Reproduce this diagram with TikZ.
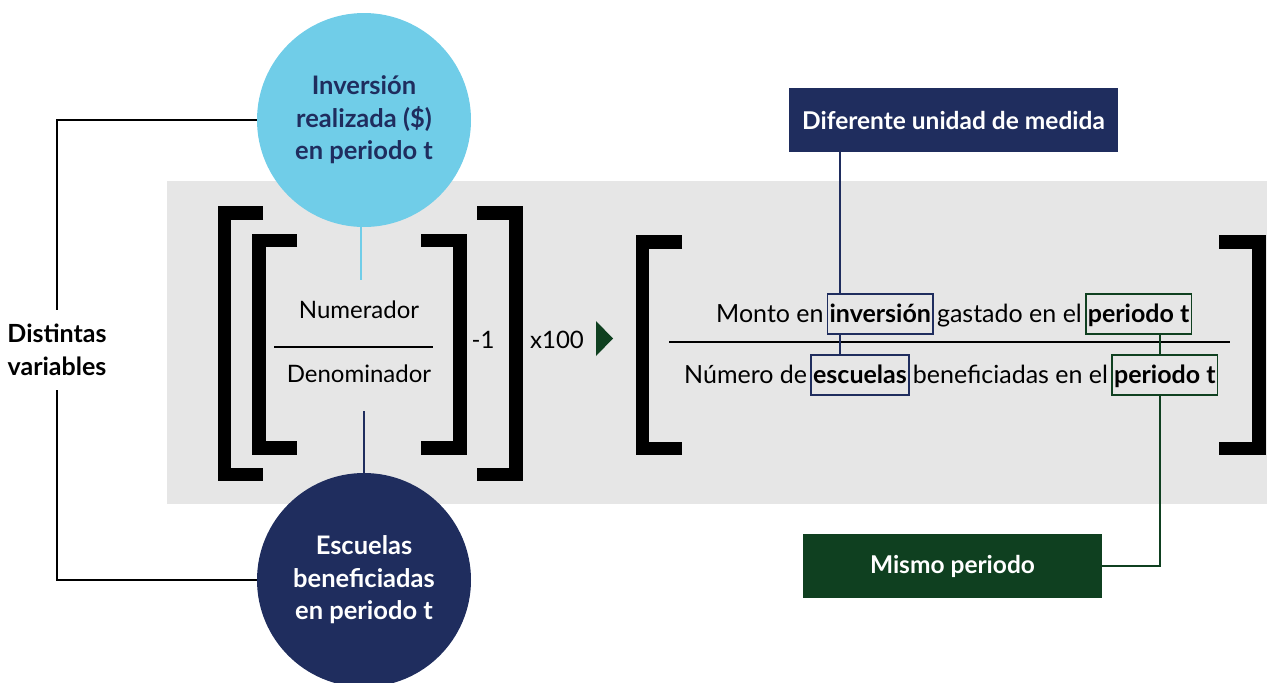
\documentclass[tikz,border=0pt]{standalone}
\usepackage{fontspec}
\setmainfont{Lato}
\usetikzlibrary{positioning}
\definecolor{navy}{HTML}{1F2D5E}
\definecolor{sky}{HTML}{70CDE8}
\definecolor{forest}{HTML}{0F4020}
\definecolor{band}{HTML}{E6E6E6}

\begin{document}
\begin{tikzpicture}[x=1pt,y=-1pt,
  every node/.style={inner sep=0pt,font=\fontsize{24}{32}\selectfont},
  bubble/.style={circle,minimum size=214pt,align=center,font=\fontsize{25.5}{32.5}\selectfont\bfseries},
  tag/.style={fill=#1,text=white,minimum height=64pt,font=\fontsize{24.5}{28}\selectfont\bfseries},
  word/.style={draw=#1,line width=1.6pt,inner xsep=2pt,inner ysep=6pt,text height=22pt,text depth=6pt,anchor=base west,font=\fontsize{25}{28}\selectfont\bfseries},
  plain/.style={anchor=base west,font=\fontsize{25}{28}\selectfont},
  brk/.style={line width=13.5pt},
  link/.style={line width=1.6pt}]

\useasboundingbox (0,0) rectangle (1267,683);
\fill[band] (167,181) rectangle (1267,504);

% circles and the left label
\node[bubble,fill=sky,text=navy]  (invc) at (364,120) {Inversión\\realizada (\$)\\en periodo t};
\node[bubble,fill=navy,text=white] (escc) at (364,580) {Escuelas\\beneficiadas\\en periodo t};
\node[align=center,inner ysep=14pt,font=\fontsize{25}{33}\selectfont\bfseries] (dv) at (57,350) {Distintas\\variables};

% left formula
\draw[brk] (263,213) -| (224.5,474.5) -- (263,474.5);
\draw[brk] (297,240.5) -| (259,448) -- (297,448);
\draw[brk] (421,240.5) -| (460,448) -- (421,448);
\draw[brk] (477,213) -| (516,474.5) -- (477,474.5);
\node (num) at (359,310) {Numerador};
\node (den) at (359,374) {Denominador};
\draw[line width=2pt] (274,347) -- (433,347);
\node (m1)   at (483,340) {-1};
\node (x100) at (557,340) {x100};
\fill[forest] (596,321) -- (613,338.5) -- (596,356) -- cycle;

\coordinate (numtop) at (361,280);
\coordinate (dentop) at (364,411);
\draw[link,sky]  (invc.south -| numtop) -- (numtop);
\draw[link,navy] (dentop) -- (escc.north);

% right formula
\draw[brk] (682,242) -| (642.5,448.5) -- (682,448.5);
\draw[brk] (1219,242) -| (1259,448.5) -- (1219,448.5);
\draw[line width=2pt] (669,342) -- (1230,342);

\node[plain] (t1) at (716,322) {Monto en};
\node[word=navy] (winv) at ([xshift=3pt]t1.base east) {inversión};
\node[plain] (t2) at ([xshift=3pt]winv.base east) {gastado en el};
\node[word=forest] (wper1) at ([xshift=3pt]t2.base east) {periodo t};

\node[plain] (b1) at (684,383) {Número de};
\node[word=navy] (wesc) at ([xshift=3pt]b1.base east) {escuelas};
\node[plain] (b2) at ([xshift=3pt]wesc.base east) {beneficiadas en el};
\node[word=forest] (wper2) at ([xshift=3pt]b2.base east) {periodo t};

\node[tag=navy,minimum width=329pt]   (dif) at (953.5,120) {Diferente unidad de medida};
\node[tag=forest,minimum width=299pt] (mis) at (952.5,566) {Mismo periodo};

% connectors
\coordinate (nx) at (840,0);
\coordinate (gx) at (1160,0);
\draw[link] (invc.west) -| (dv.north);
\draw[link] (escc.west) -| (dv.south);
\draw[link,navy] (dif.south -| nx) -- (winv.north -| nx);
\draw[link,navy] (winv.south -| nx) -- (wesc.north -| nx);
\draw[link,forest] (wper1.south -| gx) -- (wper2.north -| gx);
\draw[link,forest] (wper2.south -| gx) |- (mis.east);
\end{tikzpicture}
\end{document}
